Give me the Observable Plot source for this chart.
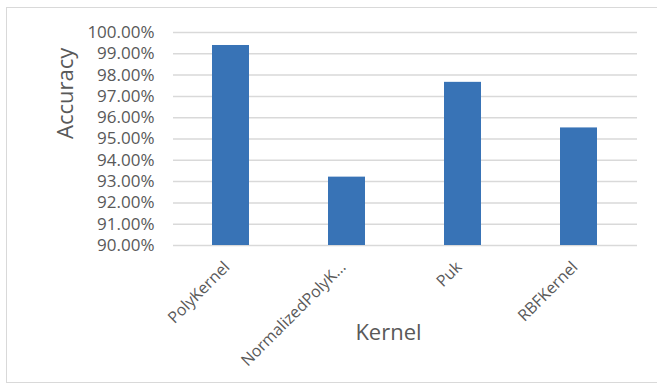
<!DOCTYPE html>
<html>
<head>
<meta charset="utf-8">
<script src="https://cdn.jsdelivr.net/npm/d3@7"></script>
<script src="https://cdn.jsdelivr.net/npm/@observablehq/plot@0.6"></script>
<style>
  html, body { margin: 0; padding: 0; background: #fff; }
  #wrap { position: relative; width: 657px; height: 386px; overflow: hidden; }
  #border { position: absolute; left: 6px; top: 7px; width: 670px; height: 376px; border: 1px solid #d9d9d9; box-sizing: border-box; }
  #chart { position: absolute; left: 0; top: 0; }
</style>
</head>
<body>
<div id="wrap"><div id="border"></div><div id="chart"></div></div>
<script>
// SVM kernel comparison: classification accuracy per kernel
const kernels = ["PolyKernel", "NormalizedPolyK...", "Puk", "RBFKernel"];
const accuracy = [0.9939, 0.9321, 0.9766, 0.9552];
const yTicks = [0.90, 0.91, 0.92, 0.93, 0.94, 0.95, 0.96, 0.97, 0.98, 0.99, 1.00];

const rows = kernels.map((k, i) => ({kernel: k, acc: accuracy[i]}));
const font = "'Open Sans', 'Liberation Sans', sans-serif";
const textColor = "#595959";

const chart = Plot.plot({
  width: 657,
  height: 386,
  marginLeft: 173,
  marginRight: 20,
  marginTop: 32,
  marginBottom: 141,
  style: {fontFamily: font, fontSize: "17px", color: textColor, background: "transparent"},
  x: {domain: kernels, paddingInner: 0.68, paddingOuter: 0.34, label: null},
  y: {domain: [0.90, 1.00], label: null},
  marks: [
    Plot.gridY(yTicks, {stroke: "#d9d9d9", strokeOpacity: 1, strokeWidth: 1.5}),
    Plot.barY(rows, {x: "kernel", y1: 0.90, y2: "acc", fill: "#3873b6"}),
    Plot.axisY(yTicks, {tickSize: 0, tickPadding: 19, tickFormat: d3.format(".2%"), label: null, fill: textColor, fontSize: 17}),
    Plot.axisX({tickSize: 0, tickPadding: 19, dx: -4, tickRotate: -45, label: null, fill: textColor, fontSize: 16}),
    Plot.text(["Accuracy"], {frameAnchor: "left", rotate: -90, dx: -108, fontSize: 22, fill: textColor, lineAnchor: "middle"}),
    Plot.text(["Kernel"], {frameAnchor: "bottom", dx: -17, dy: 87, fontSize: 22, fill: textColor, lineAnchor: "middle"})
  ]
});
document.getElementById("chart").append(chart);
</script>
</body>
</html>
